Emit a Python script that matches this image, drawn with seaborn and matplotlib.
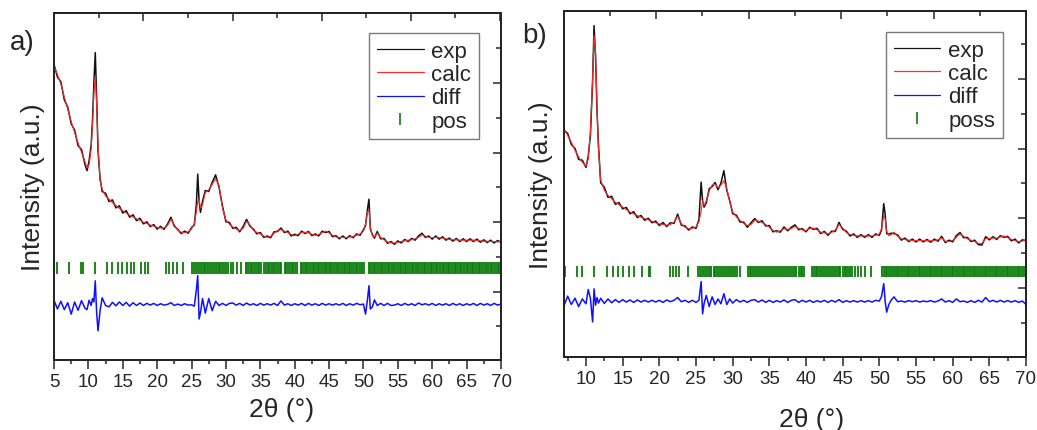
import matplotlib
matplotlib.use("Agg")
import matplotlib.pyplot as plt
from matplotlib.lines import Line2D
from matplotlib.ticker import MultipleLocator, FixedLocator
import seaborn as sns

sns.set_style("white")
plt.rcParams["font.family"] = ["Liberation Sans", "DejaVu Sans"]

# ---------------- panel a data ----------------
tt_a = [5.0, 5.5, 6.0, 6.5, 7.0, 7.5, 8.0, 8.5, 9.0, 9.5,
        9.8, 10.1, 10.4, 10.6, 10.8, 11.0, 11.2, 11.4, 11.7, 12.0,
        12.5, 13.0, 13.5, 14.0, 14.5, 15.0, 15.5, 16.0, 16.5, 17.0,
        17.5, 18.0, 18.5, 19.0, 19.5, 20.0, 20.5, 21.0, 21.5, 22.0,
        22.5, 23.0, 23.5, 24.0, 24.5, 25.0, 25.4, 25.7, 25.9, 26.1,
        26.3, 26.6, 27.0, 27.5, 28.0, 28.5, 29.0, 29.5, 30.0, 30.5,
        31.0, 31.5, 32.0, 32.5, 33.0, 33.5, 34.0, 34.5, 35.0, 35.5,
        36.0, 36.5, 37.0, 37.5, 38.0, 38.5, 39.0, 39.5, 40.0, 40.5,
        41.0, 41.5, 42.0, 42.5, 43.0, 43.5, 44.0, 44.5, 45.0, 45.5,
        46.0, 46.5, 47.0, 47.5, 48.0, 48.5, 49.0, 49.5, 50.0, 50.3,
        50.6, 50.8, 51.0, 51.3, 51.6, 52.0, 52.5, 53.0, 53.5, 54.0,
        54.5, 55.0, 55.5, 56.0, 56.5, 57.0, 57.5, 58.0, 58.5, 59.0,
        59.5, 60.0, 60.5, 61.0, 61.5, 62.0, 62.5, 63.0, 63.5, 64.0,
        64.5, 65.0, 65.5, 66.0, 66.5, 67.0, 67.5, 68.0, 68.5, 69.0,
        69.5, 70.0]

calc_a = [85.0, 82.5, 79.8, 76.0, 72.5, 69.0, 65.8, 62.8, 60.1, 57.4,
          55.6, 56.5, 61.0, 68.0, 77.0, 82.0, 74.0, 62.0, 52.0, 49.5,
          47.5, 46.6, 45.6, 44.8, 44.0, 43.3, 42.6, 42.0, 41.5, 41.0,
          40.5, 40.0, 39.6, 39.2, 38.8, 38.5, 38.3, 38.3, 39.0, 40.8,
          39.2, 37.6, 37.1, 37.0, 37.2, 38.0, 39.5, 43.0, 46.0, 46.5,
          44.0, 45.0, 48.5, 49.3, 50.8, 52.5, 50.5, 44.0, 40.6, 39.4,
          38.6, 38.0, 37.6, 38.2, 40.2, 39.2, 37.6, 37.0, 36.6, 36.0,
          35.6, 35.9, 36.8, 37.6, 37.8, 37.4, 37.0, 36.4, 36.1, 36.5,
          37.0, 37.1, 36.9, 36.5, 36.2, 36.4, 37.0, 37.4, 36.9, 36.2,
          35.7, 35.6, 35.6, 35.6, 35.7, 35.9, 36.2, 36.6, 37.4, 39.5,
          43.0, 43.5, 38.5, 36.0, 35.8, 36.8, 35.6, 34.9, 34.3, 34.0,
          34.0, 34.2, 34.4, 34.6, 34.8, 34.9, 35.2, 35.6, 36.3, 36.0,
          35.6, 35.5, 35.6, 35.5, 35.4, 35.2, 35.0, 34.9, 34.9, 34.8,
          34.8, 34.8, 34.8, 34.8, 34.7, 34.6, 34.5, 34.5, 34.4, 34.4,
          34.3, 34.4]

exp_a = [85.4, 81.8, 80.4, 75.2, 73.1, 68.3, 66.5, 62.0, 60.9, 56.6,
         54.8, 57.6, 62.2, 69.5, 80.0, 88.8, 76.0, 60.5, 52.6, 48.8,
         48.3, 45.9, 46.4, 44.1, 44.7, 42.6, 43.3, 41.4, 42.1, 40.4,
         41.1, 39.5, 40.1, 38.7, 39.3, 38.0, 38.8, 37.9, 39.4, 41.4,
         38.8, 37.9, 36.7, 37.4, 36.8, 38.4, 39.2, 45.0, 53.8, 46.0,
         42.8, 46.0, 49.1, 48.8, 51.4, 53.6, 50.0, 44.6, 40.1, 39.9,
         38.2, 38.5, 37.2, 38.7, 40.8, 38.8, 38.0, 36.6, 37.0, 35.6,
         36.0, 35.5, 37.2, 37.3, 38.3, 37.0, 37.4, 36.0, 36.5, 36.1,
         37.4, 36.7, 37.3, 36.1, 36.6, 36.0, 37.4, 37.0, 37.3, 35.8,
         36.1, 35.2, 36.0, 35.2, 36.1, 35.5, 36.6, 36.2, 37.8, 39.0,
         44.0, 46.6, 38.0, 36.4, 35.4, 37.3, 35.2, 35.3, 33.9, 34.4,
         33.6, 34.6, 34.0, 35.0, 34.4, 35.3, 34.8, 36.0, 36.8, 35.6,
         36.0, 35.1, 36.0, 35.1, 35.8, 34.8, 35.4, 34.5, 35.3, 34.4,
         35.2, 34.4, 35.2, 34.4, 35.1, 34.2, 34.9, 34.1, 34.8, 34.0,
         34.7, 34.2]

diff_a = [17.5, 15.0, 17.2, 14.8, 16.8, 13.5, 17.0, 14.6, 17.4, 15.2,
          14.8, 17.5, 16.0, 18.0, 17.0, 23.1, 14.0, 8.7, 14.5, 18.2,
          16.0, 15.6, 16.9, 15.9, 17.0, 16.0, 16.9, 15.8, 16.8, 16.0,
          16.7, 16.0, 16.6, 16.1, 16.6, 16.0, 16.5, 16.1, 16.3, 16.8,
          16.0, 16.4, 16.0, 16.5, 16.1, 16.2, 15.8, 20.5, 24.6, 12.1,
          14.0, 18.0, 13.8, 18.0, 14.5, 17.2, 16.0, 16.6, 16.0, 16.6,
          16.7, 16.1, 16.6, 16.0, 16.7, 16.1, 16.5, 16.0, 16.6, 16.1,
          16.5, 16.1, 16.6, 16.0, 17.3, 16.1, 16.5, 16.0, 16.5, 16.1,
          16.6, 16.0, 16.6, 16.1, 16.5, 16.0, 16.6, 16.1, 16.5, 16.1,
          16.5, 16.1, 16.6, 16.0, 16.5, 16.1, 16.6, 16.2, 16.4, 13.5,
          18.0, 21.7, 15.0, 15.6, 17.6, 16.0, 16.6, 16.0, 16.6, 16.0,
          16.1, 16.5, 16.0, 16.6, 16.1, 16.5, 16.0, 16.7, 16.2, 16.5,
          16.1, 16.6, 16.0, 16.5, 16.1, 16.5, 16.0, 16.6, 16.1, 16.5,
          16.0, 16.5, 16.1, 16.6, 16.0, 16.6, 16.1, 16.5, 16.0, 16.6,
          16.1, 16.4]

pos_a = [5.48, 7.22, 8.88, 9.26, 10.96, 12.75, 13.39, 14.26, 14.93, 15.57,
         16.15, 16.63, 17.61, 18.23, 18.71,
         21.29, 21.77, 22.26, 22.84, 23.71,
         25.05, 25.35, 25.60, 25.90, 26.20, 26.45, 26.75, 27.00, 27.30, 27.55,
         27.85, 28.10, 28.40, 28.65, 28.95, 29.20, 29.50, 29.75, 30.05, 30.35,
         30.70, 31.10, 31.60, 32.20,
         32.85, 33.10, 33.35, 33.60, 33.85, 34.10, 34.35, 34.60, 34.85, 35.10,
         35.55, 35.80, 36.05, 36.30, 36.55, 36.80, 37.05, 37.30, 37.55, 37.80,
         38.05,
         38.55, 38.80, 39.05, 39.30, 39.55, 39.80, 40.05, 40.30,
         40.85, 41.10, 41.35, 41.60, 41.85, 42.10, 42.35, 42.60, 42.85, 43.10,
         43.35, 43.60, 43.85, 44.10, 44.35, 44.60, 44.85, 45.10, 45.35, 45.60,
         45.85, 46.10, 46.35, 46.60, 46.85, 47.10, 47.35, 47.60, 47.85, 48.10,
         48.35, 48.60, 48.85, 49.10, 49.35, 49.60, 49.85, 50.10,
         50.75, 51.00, 51.25, 51.50, 51.75, 52.00, 52.25, 52.50, 52.75, 53.00,
         53.25, 53.50, 53.75, 54.00, 54.25, 54.50, 54.75, 55.00, 55.25, 55.50,
         55.75, 56.00, 56.25, 56.50, 56.75, 57.00, 57.25, 57.50, 57.75, 58.00,
         58.25, 58.50, 58.75, 59.00, 59.25, 59.50, 59.75, 60.00, 60.25, 60.50,
         60.75, 61.00, 61.25, 61.50, 61.75, 62.00, 62.25, 62.50, 62.75, 63.00,
         63.25, 63.50, 63.75, 64.00, 64.25, 64.50, 64.75, 65.00, 65.25, 65.50,
         65.75, 66.00, 66.25, 66.50, 66.75, 67.00, 67.25, 67.50, 67.75, 68.00,
         68.25, 68.50, 68.75, 69.00, 69.25, 69.50, 69.75, 69.95]

# ---------------- panel b data ----------------
tt_b = [7.0, 7.5, 8.0, 8.5, 9.0, 9.5, 10.0, 10.3, 10.6, 10.9,
        11.1, 11.3, 11.5, 11.7, 12.0, 12.5, 13.0, 13.5, 14.0, 14.5,
        15.0, 15.5, 16.0, 16.5, 17.0, 17.5, 18.0, 18.5, 19.0, 19.5,
        20.0, 20.5, 21.0, 21.5, 22.0, 22.5, 23.0, 23.5, 24.0, 24.5,
        25.0, 25.4, 25.7, 25.9, 26.1, 26.4, 26.8, 27.2, 27.6, 28.0,
        28.4, 28.8, 29.2, 29.6, 30.0, 30.5, 31.0, 31.5, 32.0, 32.5,
        33.0, 33.5, 34.0, 34.5, 35.0, 35.5, 36.0, 36.5, 37.0, 37.5,
        38.0, 38.5, 39.0, 39.5, 40.0, 40.5, 41.0, 41.5, 42.0, 42.5,
        43.0, 43.5, 44.0, 44.5, 45.0, 45.5, 46.0, 46.5, 47.0, 47.5,
        48.0, 48.5, 49.0, 49.5, 50.0, 50.3, 50.6, 50.8, 51.0, 51.3,
        51.6, 52.0, 52.5, 53.0, 53.5, 54.0, 54.5, 55.0, 55.5, 56.0,
        56.5, 57.0, 57.5, 58.0, 58.5, 59.0, 59.5, 60.0, 60.5, 61.0,
        61.5, 62.0, 62.5, 63.0, 63.5, 64.0, 64.5, 65.0, 65.5, 66.0,
        66.5, 67.0, 67.5, 68.0, 68.5, 69.0, 69.5, 70.0]

calc_b = [65.7, 63.8, 61.9, 59.5, 57.6, 56.1, 55.0, 57.0, 64.8, 80.0,
          92.5, 88.0, 72.0, 60.0, 51.0, 48.0, 46.6, 45.6, 44.6, 43.9,
          43.2, 42.5, 41.8, 41.3, 40.8, 40.3, 39.9, 39.5, 39.1, 38.7,
          38.4, 38.2, 38.0, 38.2, 38.9, 40.6, 38.4, 37.4, 37.0, 37.1,
          37.5, 39.0, 42.0, 45.1, 43.6, 45.0, 47.8, 49.6, 49.8, 48.8,
          49.5, 50.8, 48.5, 44.6, 41.8, 40.4, 39.4, 38.5, 37.9, 38.2,
          39.4, 39.2, 38.8, 38.2, 37.4, 36.5, 36.0, 36.4, 37.0, 36.8,
          37.0, 37.6, 37.1, 36.6, 36.5, 37.0, 37.2, 36.7, 36.0, 35.8,
          35.5, 35.9, 36.6, 38.2, 37.2, 35.9, 35.3, 35.1, 34.9, 34.9,
          34.9, 34.9, 34.9, 35.1, 35.5, 37.0, 40.8, 39.8, 36.2, 35.0,
          35.2, 36.0, 34.8, 34.1, 33.9, 33.7, 33.6, 33.6, 33.6, 33.6,
          33.5, 33.5, 33.6, 33.8, 34.3, 33.4, 33.3, 33.6, 34.5, 35.5,
          34.8, 34.1, 33.7, 33.3, 32.8, 32.7, 34.2, 34.2, 34.3, 34.3,
          34.6, 34.9, 34.4, 33.9, 33.6, 33.3, 33.4, 33.9]

exp_b = [65.3, 64.4, 61.2, 60.1, 56.9, 56.7, 54.6, 57.8, 63.8, 79.4,
         95.4, 86.5, 71.0, 61.0, 50.2, 48.9, 46.0, 46.3, 44.0, 44.5,
         42.7, 43.1, 41.3, 41.9, 40.2, 40.8, 39.4, 40.0, 38.7, 39.2,
         37.9, 38.8, 37.6, 38.7, 38.5, 41.2, 38.0, 37.8, 36.6, 37.5,
         37.1, 39.6, 50.4, 45.0, 43.2, 44.4, 48.5, 49.1, 50.3, 48.2,
         50.1, 53.7, 48.0, 45.1, 41.3, 40.9, 38.9, 38.9, 37.4, 38.7,
         39.9, 38.8, 39.3, 37.8, 37.9, 36.1, 36.4, 36.0, 37.5, 36.4,
         37.4, 38.1, 36.7, 37.0, 36.1, 37.4, 36.8, 37.1, 35.6, 36.2,
         35.1, 36.3, 36.2, 38.8, 36.8, 36.3, 34.9, 35.5, 34.5, 35.3,
         34.5, 35.3, 34.5, 35.5, 35.1, 36.6, 44.2, 41.0, 35.6, 35.4,
         35.7, 35.6, 35.2, 33.7, 34.3, 33.3, 34.0, 33.2, 34.0, 33.2,
         33.9, 33.1, 34.0, 33.4, 34.8, 33.0, 33.7, 33.2, 35.0, 35.9,
         34.4, 34.5, 33.3, 33.7, 32.4, 32.3, 34.7, 33.8, 34.7, 33.9,
         35.0, 34.5, 34.8, 33.5, 34.0, 32.9, 33.8, 33.5]

diff_b = [14.8, 17.6, 15.2, 17.0, 14.6, 16.8, 15.4, 19.5, 17.0, 10.2,
          19.7, 15.0, 17.2, 15.6, 17.0, 15.5, 16.8, 15.7, 16.6, 15.8,
          16.6, 15.9, 16.5, 15.8, 16.5, 15.9, 16.4, 15.9, 16.4, 15.9,
          16.4, 15.8, 16.5, 16.0, 16.4, 17.2, 16.0, 16.4, 15.8, 16.4,
          15.8, 16.4, 21.8, 12.5, 15.5, 17.8, 14.6, 17.4, 15.2, 16.8,
          15.4, 18.3, 15.2, 16.8, 15.6, 16.6, 15.9, 16.4, 15.8, 16.4,
          16.6, 15.9, 16.5, 15.8, 16.4, 15.8, 16.3, 15.9, 16.5, 15.8,
          16.4, 16.6, 15.8, 16.4, 15.9, 16.4, 15.8, 16.3, 15.9, 16.4,
          15.8, 16.4, 15.9, 16.6, 15.8, 16.3, 15.9, 16.3, 15.9, 16.3,
          15.9, 16.3, 15.9, 16.4, 16.2, 17.5, 21.2, 16.0, 13.0, 15.2,
          16.4, 17.4, 16.0, 16.2, 15.9, 16.3, 16.0, 16.3, 15.9, 16.2,
          16.0, 16.3, 15.9, 16.2, 16.8, 15.9, 16.3, 15.8, 16.8, 16.0,
          16.2, 15.8, 16.3, 15.8, 16.4, 15.9, 17.2, 16.0, 16.4, 15.9,
          16.4, 15.9, 16.3, 15.9, 16.3, 15.8, 16.2, 15.2]

pos_b = [7.14, 8.73, 9.41, 11.09, 12.82, 13.64, 14.32, 15.08, 15.86, 16.54,
         17.67, 18.55, 18.72,
         21.44, 21.89, 22.26, 22.71, 23.85,
         25.25, 25.55, 25.80, 26.10, 26.35, 26.60, 26.85, 27.10, 27.40, 27.65,
         27.90, 28.15, 28.45, 28.70, 28.95, 29.25, 29.50, 29.80, 30.05, 30.35,
         30.60, 31.00,
         32.05, 32.30, 32.55, 32.75, 33.00, 33.30, 33.55, 33.80, 34.10, 34.40,
         34.65, 34.90, 35.20, 35.50, 35.75, 36.00, 36.30, 36.60, 36.85, 37.10,
         37.40, 37.65, 37.90, 38.20, 38.45, 38.70, 39.00, 39.25, 39.50, 39.75,
         40.80, 41.05, 41.30, 41.55, 41.80, 42.10, 42.35, 42.60, 42.85, 43.15,
         43.40, 43.65, 43.90, 44.20, 44.45, 44.70, 45.00, 45.25, 45.50, 45.75,
         46.05, 46.30, 46.70, 47.10, 47.45,
         48.05, 48.85,
         50.35, 50.60, 50.85, 51.10, 51.35, 51.60, 51.85, 52.10, 52.35, 52.60,
         52.85, 53.10, 53.35, 53.60, 53.85, 54.10, 54.35, 54.60, 54.85, 55.10,
         55.35, 55.60, 55.85, 56.10, 56.35, 56.60, 56.85, 57.10, 57.35, 57.60,
         57.85, 58.10, 58.35, 58.60, 58.85, 59.10, 59.35, 59.60, 59.85, 60.10,
         60.35, 60.60, 60.85, 61.10, 61.35, 61.60, 61.85, 62.10, 62.35, 62.60,
         62.85, 63.10, 63.35, 63.60, 63.85, 64.10, 64.35, 64.60, 64.85, 65.10,
         65.35, 65.60, 65.85, 66.10, 66.35, 66.60, 66.85, 67.10, 67.35, 67.60,
         67.85, 68.10, 68.35, 68.60, 68.85, 69.10, 69.35, 69.60, 69.85]

labels_a = ["exp", "calc", "diff", "pos"]
labels_b = ["exp", "calc", "diff", "poss"]

C_EXP = "#111111"
C_CALC = "#ff2a2a"
C_DIFF = "#1010ff"
C_POS = "#0b7d0b"

fig = plt.figure(figsize=(10.37, 4.31), dpi=100)
ax_a = fig.add_axes([54 / 1037, (431 - 361) / 431, 447 / 1037, 347 / 431])
ax_b = fig.add_axes([564 / 1037, (431 - 358) / 431, 462 / 1037, 346 / 431])


def draw(ax, tt, exp, calc, diff, pos, pos_lo, pos_hi, xlim, ylim,
         top_long, top_short, labels, leg_anchor, ylab_x, xlab_xy):
    sns.lineplot(x=tt, y=exp, ax=ax, color=C_EXP, lw=1.1, sort=False,
                 estimator=None, errorbar=None, legend=False)
    sns.lineplot(x=tt, y=calc, ax=ax, color=C_CALC, lw=0.8, sort=False,
                 estimator=None, errorbar=None, legend=False)
    sns.lineplot(x=tt, y=diff, ax=ax, color=C_DIFF, lw=1.1, sort=False,
                 estimator=None, errorbar=None, legend=False)
    ax.vlines(pos, pos_lo, pos_hi, colors=C_POS, lw=1.3)

    ax.set_xlim(*xlim)
    ax.set_ylim(*ylim)
    for sp in ax.spines.values():
        sp.set_linewidth(1.4)
        sp.set_color("black")

    ax.xaxis.set_major_locator(MultipleLocator(5))
    ax.xaxis.set_minor_locator(MultipleLocator(2.5))
    ax.tick_params(axis="x", which="major", direction="out", length=6.5,
                   width=1.1, labelsize=13.5, pad=3, bottom=True, top=False)
    ax.tick_params(axis="x", which="minor", direction="out", length=3.2,
                   width=1.1, bottom=True, top=False)

    ax.yaxis.set_major_locator(FixedLocator([20, 40, 60, 80]))
    ax.yaxis.set_minor_locator(FixedLocator([10, 30, 50, 70, 90]))
    ax.tick_params(axis="y", which="major", direction="in", length=6,
                   width=1.1, left=False, right=True, labelleft=False,
                   labelright=False)
    ax.tick_params(axis="y", which="minor", direction="in", length=3.5,
                   width=1.1, left=False, right=True)

    axt = ax.twiny()
    axt.set_xlim(*xlim)
    axt.xaxis.set_major_locator(FixedLocator(top_long))
    axt.xaxis.set_minor_locator(FixedLocator(top_short))
    axt.tick_params(axis="x", which="major", direction="in", length=6,
                    width=1.1, labeltop=False, top=True, bottom=False)
    axt.tick_params(axis="x", which="minor", direction="in", length=3.5,
                    width=1.1, top=True, bottom=False)
    for sp in axt.spines.values():
        sp.set_linewidth(1.4)
    axt.grid(False)

    ax.set_xlabel("2θ (°)", fontsize=19)
    ax.xaxis.label.set_va("center")
    ax.xaxis.set_label_coords(*xlab_xy)
    ax.set_ylabel("Intensity (a.u.)", fontsize=19)
    ax.yaxis.label.set_va("center")
    ax.yaxis.set_label_coords(ylab_x, 0.5)

    handles = [
        Line2D([], [], color=C_EXP, lw=0.9),
        Line2D([], [], color=C_CALC, lw=0.9),
        Line2D([], [], color=C_DIFF, lw=0.9),
        Line2D([], [], color=C_POS, marker="|", ls="None", markersize=9,
               markeredgewidth=1.2),
    ]
    leg = axt.legend(handles, labels, loc="upper right",
                     bbox_to_anchor=leg_anchor, fontsize=16, frameon=True,
                     fancybox=False, edgecolor="#7a7a7a", framealpha=1,
                     borderpad=0.35, labelspacing=0.1, handlelength=2.1,
                     handletextpad=0.35, borderaxespad=0)
    leg.get_frame().set_linewidth(1.0)


draw(ax_a, tt_a, exp_a, calc_a, diff_a, pos_a, 25.0, 28.4, (5, 70),
     (0.3, 100.2), [18.0, 31.0, 43.9, 56.9, 69.8],
     [11.6, 24.5, 37.4, 50.4, 63.3], labels_a, (0.951, 0.942),
     -0.046, (0.508, -0.141))
draw(ax_b, tt_b, exp_b, calc_b, diff_b, pos_b, 23.1, 26.4, (7, 70),
     (0.1, 99.6), [19.58, 32.2, 44.8, 57.4],
     [13.27, 25.85, 38.5, 51.1, 63.7], labels_b, (0.950, 0.939),
     -0.050, (0.535, -0.179))

fig.text(10 / 1037, 1 - 43 / 431, "a)", fontsize=20, ha="left", va="center")
fig.text(522 / 1037, 1 - 36 / 431, "b)", fontsize=20, ha="left", va="center")

fig.savefig("out.png", dpi=100, facecolor="white")
